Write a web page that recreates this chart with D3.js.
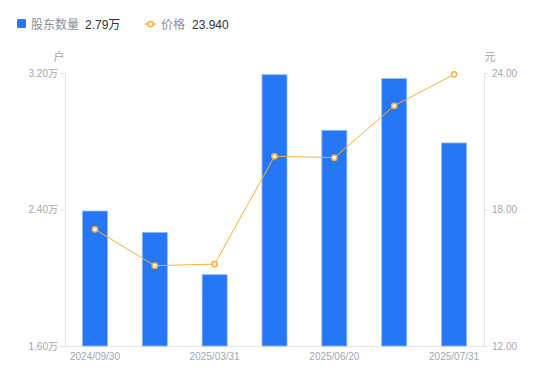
<!DOCTYPE html>
<html>
<head>
<meta charset="utf-8">
<script src="https://cdn.jsdelivr.net/npm/d3@7"></script>
<style>
	body { margin: 0; background: #fff; font-family: "Liberation Sans", "Noto Sans CJK SC", sans-serif; }
	svg text { font-family: "Liberation Sans", "Noto Sans CJK SC", sans-serif; }
</style>
</head>
<body>
<div id="chart"></div>
<script>
var dates = ['2024/09/30', '2024/12/31', '2025/03/31', '2025/04/30', '2025/06/20', '2025/06/30', '2025/07/31'];
var holders = [2.391, 2.266, 2.018, 3.19, 2.864, 3.167, 2.79];
var prices = [17.13, 15.53, 15.60, 20.34, 20.28, 22.56, 23.94];
var holderTicks = [1.6, 2.4, 3.2];
var priceTicks = [12, 18, 24];

var svg = d3.select('#chart').append('svg')
	.attr('width', 550)
	.attr('height', 381);

var padding = {t: 73, r: 66, b: 35, l: 65};
var chartWidth = 550 - padding.l - padding.r;
var chartHeight = 381 - padding.t - padding.b;

var xScale = d3.scaleBand().domain(dates).range([0, chartWidth]);
var yLeft = d3.scaleLinear().domain([1.6, 3.2]).range([chartHeight, 0]);
var yRight = d3.scaleLinear().domain([12, 24]).range([chartHeight, 0]);

var blue = '#2577f5';
var orange = '#f7b13a';
var gray = '#a2a6b0';
var axisColor = '#e3e5ea';

var chartG = svg.append('g')
	.attr('transform', 'translate(' + [padding.l, padding.t] + ')');

// axes
var leftAxis = chartG.append('g')
	.call(d3.axisLeft(yLeft).tickValues(holderTicks).tickSize(5).tickPadding(2)
		.tickFormat(function(d) { return d.toFixed(2) + '万'; }));
var rightAxis = chartG.append('g')
	.attr('transform', 'translate(' + chartWidth + ',0)')
	.call(d3.axisRight(yRight).tickValues(priceTicks).tickSize(4).tickPadding(4)
		.tickFormat(function(d) { return d.toFixed(2); }));
var bottomAxis = chartG.append('g')
	.attr('transform', 'translate(0,' + chartHeight + ')')
	.call(d3.axisBottom(xScale).tickSize(0).tickPadding(7)
		.tickFormat(function(d, i) { return i % 2 === 0 ? d : ''; }));

[leftAxis, rightAxis, bottomAxis].forEach(function(a) {
	a.select('.domain').attr('stroke', axisColor);
	a.selectAll('.tick line').attr('stroke', axisColor);
	a.selectAll('.tick text').attr('fill', gray).style('font-size', '10px');
});

// bars
var barWidth = 25;
chartG.selectAll('rect.bar')
	.data(holders)
	.enter()
	.append('rect')
	.attr('class', 'bar')
	.attr('x', function(d, i) { return xScale(dates[i]) + xScale.bandwidth() / 2 - barWidth / 2; })
	.attr('y', function(d) { return yLeft(d); })
	.attr('width', barWidth)
	.attr('height', function(d) { return chartHeight - yLeft(d); })
	.attr('fill', blue)
	.attr('stroke', '#8fb8fa')
	.attr('stroke-width', 0.8);

// price line
var line = d3.line()
	.x(function(d, i) { return xScale(dates[i]) + xScale.bandwidth() / 2; })
	.y(function(d) { return yRight(d); });
chartG.append('path')
	.datum(prices)
	.attr('d', line)
	.attr('fill', 'none')
	.attr('stroke', orange)
	.attr('stroke-width', 1);
chartG.selectAll('circle.pt')
	.data(prices)
	.enter()
	.append('circle')
	.attr('class', 'pt')
	.attr('cx', function(d, i) { return xScale(dates[i]) + xScale.bandwidth() / 2; })
	.attr('cy', function(d) { return yRight(d); })
	.attr('r', 2.6)
	.attr('fill', '#fff')
	.attr('stroke', orange)
	.attr('stroke-width', 1.5);

// axis titles
svg.append('text').attr('x', 59).attr('y', 61).attr('text-anchor', 'middle')
	.attr('fill', gray).style('font-size', '11px').text('户');
svg.append('text').attr('x', 490).attr('y', 61).attr('text-anchor', 'middle')
	.attr('fill', gray).style('font-size', '11px').text('元');

// legend
var legend = svg.append('g');
legend.append('rect').attr('x', 17).attr('y', 19).attr('width', 9).attr('height', 9)
	.attr('rx', 1.5).attr('fill', blue);
legend.append('text').attr('x', 31).attr('y', 28.5).attr('fill', '#8a8f99')
	.style('font-size', '12px').text('股东数量');
legend.append('text').attr('x', 85).attr('y', 28.5).attr('fill', '#333')
	.style('font-size', '12px').text('2.79万');
legend.append('line').attr('x1', 145).attr('x2', 156).attr('y1', 24).attr('y2', 24)
	.attr('stroke', orange).attr('stroke-width', 1.5);
legend.append('circle').attr('cx', 150.5).attr('cy', 24).attr('r', 2.6)
	.attr('fill', '#fff').attr('stroke', orange).attr('stroke-width', 1.5);
legend.append('text').attr('x', 161).attr('y', 28.5).attr('fill', '#8a8f99')
	.style('font-size', '12px').text('价格');
legend.append('text').attr('x', 192).attr('y', 28.5).attr('fill', '#333')
	.style('font-size', '12px').text('23.940');
</script>
</body>
</html>
